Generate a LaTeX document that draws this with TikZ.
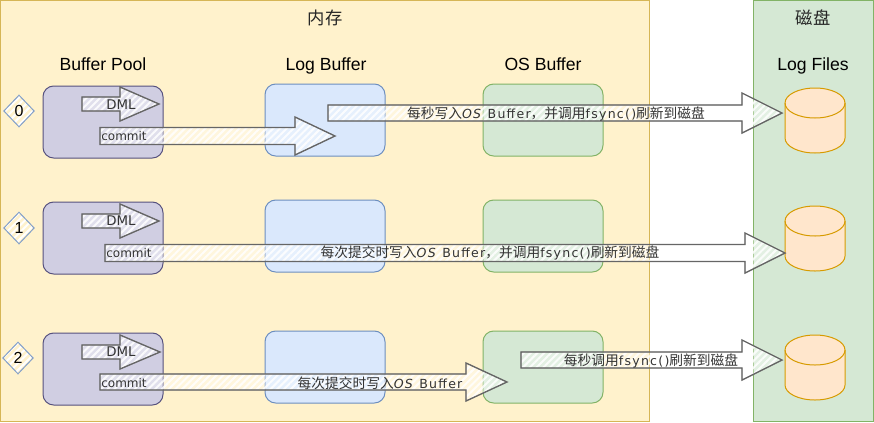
\documentclass[tikz,border=0pt]{standalone}
\usepackage{fontspec}
\setmainfont{DejaVu Sans}
\newfontfamily\widefont[LetterSpace=10]{DejaVu Sans}
\newfontfamily\titlefont{Liberation Sans}
\newfontfamily\cjkfont{Noto Sans CJK SC}
\usetikzlibrary{calc,patterns.meta,shapes.geometric}
\definecolor{yellowfill}{HTML}{FFF2CC}\definecolor{yellowline}{HTML}{D6B656}
\definecolor{bluefill}{HTML}{DAE8FC}\definecolor{blueline}{HTML}{6C8EBF}
\definecolor{greenfill}{HTML}{D5E8D4}\definecolor{greenline}{HTML}{82B366}
\definecolor{purplefill}{HTML}{D0CEE2}\definecolor{purpleline}{HTML}{56517E}
\definecolor{orangefill}{HTML}{FFE6CC}\definecolor{orangeline}{HTML}{D79B00}
\definecolor{arrowline}{HTML}{666666}
\newcommand{\hz}[1]{{\cjkfont\fontsize{10.3pt}{12pt}\selectfont #1}}
\newcommand{\lw}[1]{{\widefont\fontsize{9.4pt}{11pt}\selectfont #1}}
\tikzset{
  frame/.style={draw,line width=.75pt,anchor=north west,inner sep=0pt,outer sep=0pt},
  titletext/.style={font=\titlefont\fontsize{13.2pt}{15pt}\selectfont,text=black,inner sep=0pt,anchor=base},
  headtext/.style={font=\cjkfont\fontsize{13pt}{15pt}\selectfont,text=black!85,inner sep=0pt},
  memorybox/.style={draw,line width=.75pt,rounded corners=8pt,minimum width=90pt,minimum height=54pt,inner sep=0pt,outer sep=0pt},
  poolbox/.style={memorybox,fill=purplefill,draw=purpleline},
  logbox/.style={memorybox,fill=bluefill,draw=blueline},
  osbox/.style={memorybox,fill=greenfill,draw=greenline},
  diskbody/.style={draw=orangeline,fill=orangefill,line width=.75pt},
  hatch/.style={pattern={Lines[angle=45,distance=3.6pt,line width=1.5pt]},pattern color=white},
  levelmark/.style={diamond,draw=blueline!85,line width=.75pt,preaction={hatch},
    minimum width=23pt,minimum height=24pt,inner sep=0pt,font=\titlefont\fontsize{12pt}{14pt}\selectfont},
  arrowtext/.style={font=\fontsize{9pt}{11pt}\selectfont,text=black!80,inner sep=0pt},
  dmltext/.style={font=\fontsize{10pt}{12pt}\selectfont,text=black!80,inner sep=0pt},
}
% tail, tip, head length, shaft half-height, head half-height
\newcommand{\blockarrow}[5]{%
  \def\arrowshape{(#1)++(0,#4) -- ($(#2)+(-#3,#4)$) -- ($(#2)+(-#3,#5)$) -- (#2)
    -- ($(#2)+(-#3,-#5)$) -- ($(#2)+(-#3,-#4)$) -- ($(#1)+(0,-#4)$) -- cycle}%
  \fill[white,opacity=.35] \arrowshape;
  \fill[hatch,opacity=.85] \arrowshape;
  \draw[arrowline,line width=1pt,line join=miter] \arrowshape;
  \draw[arrowline,line width=.5pt,opacity=.6,yshift=.5pt] \arrowshape;
}
% name, top-centre coordinate
\newcommand{\logdisk}[1]{%
  \draw[diskbody] ($(#1)+(-30,15)$) -- ($(#1)+(-30,50)$)
    arc[start angle=180,end angle=360,x radius=22.5pt,y radius=11.25pt]
    -- ($(#1)+(30,15)$)
    arc[start angle=0,end angle=180,x radius=22.5pt,y radius=11.25pt] -- cycle;
  \draw[draw=orangeline,line width=.75pt] ($(#1)+(-30,15)$)
    arc[start angle=180,end angle=360,x radius=22.5pt,y radius=11.25pt];
}
\begin{document}
\begin{tikzpicture}[x=.75pt,y=-.75pt]
\useasboundingbox (0,0) rectangle (874,422);
\fill[white] (0,0) rectangle (874,422);

\node[frame,fill=yellowfill,draw=yellowline,minimum width=486.5pt,minimum height=315.5pt] (memory) at (0.5,0.5) {};
\node[frame,fill=greenfill,draw=greenline,minimum width=90pt,minimum height=315.5pt] (diskarea) at (753.5,0.5) {};
\node[headtext] (memtitle) at (325,18) {内存};
\node[headtext] (disktitle) at (813,18) {磁盘};

\node[titletext] (pooltitle) at (103,70) {Buffer Pool};
\node[titletext] (logtitle) at (326,70) {Log Buffer};
\node[titletext] (ostitle) at (543,70) {OS Buffer};
\node[titletext] (filetitle) at (813,70) {Log Files};

% row boxes
\node[poolbox] (poolA) at (103,122) {};
\node[poolbox] (poolB) at (103,238) {};
\node[poolbox] (poolC) at (103,369) {};
\node[logbox] (logA) at (325,120) {};
\node[logbox] (logB) at (325,236) {};
\node[logbox] (logC) at (325,367) {};
\node[osbox] (osA) at (543,120) {};
\node[osbox] (osB) at (543,236) {};
\node[osbox] (osC) at (543,367) {};
\coordinate (diskA) at (815,88);
\coordinate (diskB) at (815,206);
\coordinate (diskC) at (815,335);
\logdisk{diskA}
\logdisk{diskB}
\logdisk{diskC}

\node[levelmark] (markA) at (19,111) {0};
\node[levelmark] (markB) at (19,228) {1};
\node[levelmark] (markC) at (18,358) {2};

% coordinates of block arrows
\coordinate (dmlAtail) at (82,104); \coordinate (dmlAtip) at (159,104);
\coordinate (dmlBtail) at (82,221); \coordinate (dmlBtip) at (159,221);
\coordinate (dmlCtail) at (82,352); \coordinate (dmlCtip) at (160,352);
\coordinate (comAtail) at (100,136); \coordinate (comAtip) at (335,136);
\coordinate (comBtail) at (105,253); \coordinate (comBtip) at (785,253);
\coordinate (comCtail) at (100,382); \coordinate (comCtip) at (507,382);
\coordinate (secAtail) at (328,113); \coordinate (secAtip) at (782,113);
\coordinate (secCtail) at (521,360); \coordinate (secCtip) at (782,360);

\blockarrow{dmlAtail}{dmlAtip}{39}{7}{17}
\blockarrow{dmlBtail}{dmlBtip}{39}{7}{17}
\blockarrow{dmlCtail}{dmlCtip}{40}{7}{17}
\blockarrow{comAtail}{comAtip}{40}{8.5}{19}
\blockarrow{secAtail}{secAtip}{40}{8}{20}
\blockarrow{comBtail}{comBtip}{40}{8.5}{20}
\blockarrow{comCtail}{comCtip}{41}{8}{19}
\blockarrow{secCtail}{secCtip}{40}{8}{20}

\node[dmltext] (dmlAtext) at (121,105) {DML};
\node[dmltext] (dmlBtext) at (121,221) {DML};
\node[dmltext] (dmlCtext) at (121,352) {DML};
\node[arrowtext] (comAtext) at (124,136) {commit};
\node[arrowtext] (comBtext) at (129,253) {commit};
\node[arrowtext] (comCtext) at (124,383) {commit};
\node[arrowtext] (secAtext) at (556,114) {\hz{每秒写入}\lw{\textit{OS} Buffer}\hz{，并调用}\lw{fsync()}\hz{刷新到磁盘}};
\node[arrowtext] (comBlabel) at (490,253) {\hz{每次提交时写入}\lw{\textit{OS} Buffer}\hz{，并调用}\lw{fsync()}\hz{刷新到磁盘}};
\node[arrowtext] (comClabel) at (380,383) {\hz{每次提交时写入}\lw{\textit{OS} Buffer}};
\node[arrowtext] (secCtext) at (651,361) {\hz{每秒调用}\lw{fsync()}\hz{刷新到磁盘}};
\end{tikzpicture}
\end{document}
